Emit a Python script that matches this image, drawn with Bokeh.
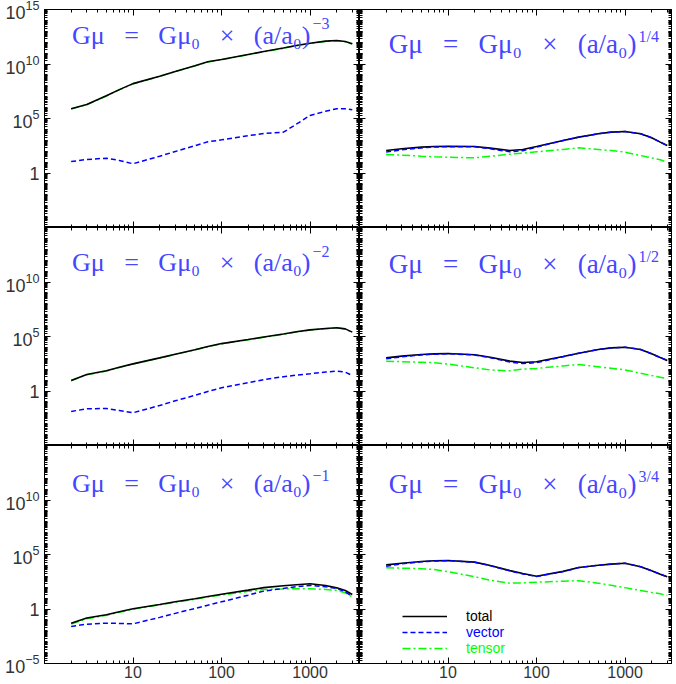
from bokeh.plotting import figure
from bokeh.models import (LogAxis, FixedTicker, LogTickFormatter, Label, Legend,
                          LegendItem, Range1d, ColumnDataSource)
from bokeh.layouts import gridplot
from bokeh.embed import file_html
from bokeh.resources import INLINE

# ---------------- data (log10 of the spectra) ----------------
x_k = [2, 3, 5, 7, 10, 20, 30, 50, 70, 100, 200, 300, 500, 700, 1000, 1500, 2000, 2500, 3000]

# G mu ~ a^-3
tot_m3 = [5.90, 6.28, 7.08, 7.65, 8.20, 8.88, 9.32, 9.84, 10.20, 10.41, 10.87, 11.14, 11.46, 11.70, 11.90, 12.10, 12.15, 12.06, 11.85]
vec_m3 = [1.05, 1.24, 1.36, 1.15, 0.85, 1.54, 1.97, 2.50, 2.86, 3.04, 3.42, 3.62, 3.74, 4.48, 5.28, 5.67, 5.89, 5.89, 5.80]
ten_m3 = [5.88, 6.26, 7.06, 7.63, 8.18, 8.86, 9.30, 9.82, 10.18, 10.39, 10.85, 11.12, 11.44, 11.68, 11.88, 12.08, 12.13, 12.04, 11.83]
# G mu ~ a^-2
tot_m2 = [0.96, 1.51, 1.85, 2.17, 2.49, 3.04, 3.38, 3.79, 4.08, 4.35, 4.72, 4.95, 5.23, 5.43, 5.61, 5.73, 5.80, 5.70, 5.40]
vec_m2 = [-1.88, -1.63, -1.60, -1.79, -2.00, -1.33, -0.90, -0.40, -0.05, 0.29, 0.76, 1.04, 1.31, 1.45, 1.58, 1.74, 1.82, 1.73, 1.42]
ten_m2 = [0.94, 1.49, 1.83, 2.15, 2.47, 3.02, 3.36, 3.77, 4.06, 4.33, 4.70, 4.93, 5.21, 5.41, 5.59, 5.71, 5.78, 5.68, 5.38]
# G mu ~ a^-1
tot_m1 = [-1.30, -0.83, -0.53, -0.26, 0.02, 0.41, 0.66, 0.94, 1.15, 1.35, 1.73, 1.96, 2.13, 2.23, 2.31, 2.16, 1.94, 1.70, 1.33]
vec_m1 = [-1.61, -1.39, -1.30, -1.32, -1.36, -0.77, -0.40, 0.05, 0.35, 0.66, 1.27, 1.64, 1.89, 2.04, 2.16, 2.04, 1.88, 1.58, 1.15]
ten_m1 = [-1.38, -0.90, -0.58, -0.30, -0.02, 0.38, 0.62, 0.90, 1.10, 1.28, 1.62, 1.78, 1.84, 1.86, 1.85, 1.80, 1.70, 1.50, 1.10]
# G mu ~ a^1/4
tot_p14 = [2.06, 2.22, 2.37, 2.43, 2.46, 2.43, 2.28, 2.06, 2.16, 2.43, 2.98, 3.29, 3.60, 3.75, 3.81, 3.60, 3.23, 2.83, 2.52]
vec_p14 = [1.92, 2.12, 2.30, 2.38, 2.42, 2.40, 2.22, 1.95, 2.05, 2.38, 2.98, 3.29, 3.60, 3.75, 3.81, 3.60, 3.23, 2.83, 2.52]
ten_p14 = [1.70, 1.64, 1.54, 1.48, 1.45, 1.39, 1.54, 1.73, 1.82, 1.94, 2.16, 2.31, 2.16, 2.06, 1.91, 1.60, 1.39, 1.21, 0.99]
# G mu ~ a^1/2
tot_p12 = [3.04, 3.20, 3.35, 3.41, 3.44, 3.32, 3.10, 2.74, 2.61, 2.68, 3.17, 3.47, 3.81, 3.96, 4.02, 3.81, 3.41, 3.07, 2.80]
vec_p12 = [2.95, 3.14, 3.31, 3.38, 3.42, 3.30, 3.06, 2.66, 2.52, 2.60, 3.15, 3.47, 3.81, 3.96, 4.02, 3.81, 3.41, 3.07, 2.80]
ten_p12 = [2.74, 2.69, 2.64, 2.60, 2.47, 2.13, 1.93, 1.85, 2.00, 2.07, 2.30, 2.43, 2.22, 2.08, 1.93, 1.63, 1.42, 1.27, 1.12]
# G mu ~ a^3/4
tot_p34 = [4.05, 4.20, 4.36, 4.42, 4.45, 4.30, 3.99, 3.52, 3.25, 3.01, 3.45, 3.80, 4.02, 4.12, 4.20, 3.88, 3.50, 3.19, 2.95]
vec_p34 = [3.93, 4.14, 4.33, 4.40, 4.44, 4.29, 3.98, 3.50, 3.22, 2.98, 3.44, 3.80, 4.02, 4.12, 4.20, 3.88, 3.50, 3.19, 2.95]
ten_p34 = [3.78, 3.75, 3.70, 3.63, 3.42, 2.96, 2.63, 2.37, 2.40, 2.46, 2.55, 2.60, 2.37, 2.17, 1.96, 1.70, 1.52, 1.39, 1.24]

exponents = [["\u22123", "1/4"], ["\u22122", "1/2"], ["\u22121", "3/4"]]
series = [[(tot_m3, vec_m3, ten_m3), (tot_p14, vec_p14, ten_p14)],
          [(tot_m2, vec_m2, ten_m2), (tot_p12, vec_p12, ten_p12)],
          [(tot_m1, vec_m1, ten_m1), (tot_p34, vec_p34, ten_p34)]]

x_major = [10, 100, 1000]
x_minor = [m * 10 ** e for e in range(0, 4) for m in range(1, 10) if m * 10 ** e <= 4000]
y_labeled = [[1, 1e5, 1e10, 1e15], [1, 1e5, 1e10], [1e-5, 1, 1e5, 1e10]]
y_minor = [m * 10.0 ** e for e in range(-5, 15) for m in range(1, 10)] + [1e15]

legend_labels = ["total", "vector", "tensor"]

# ---------------- layout / style ----------------
FW = [315, 312]
FH = 218
XMAX = [3620, 3350]
B_L = [44, 0]
B_R = [0, 5]
B_T = [9, 0, 0]
B_B = [0, 0, 21]
TITLE_X = [266, 277]
TITLE_SIZE = ["26px", "27px"]
TITLE_DY = [[26, 34], [35, 36], [38, 38]]
EXP_RISE = [[12, 7], [11, 7], [8, 7]]
TITLE_COLOR = "#4646ff"
GAP = "\u2002 "
C_TOT, C_VEC, C_TEN = "black", "#0000ff", "#00ff00"
LEG_Y = [47, 31, 15]


def style_axis(ax, ticker, formatter, show, size, standoff):
    ax.ticker = ticker
    ax.formatter = formatter
    ax.axis_line_color = "black"
    ax.major_tick_line_color = "black"
    ax.minor_tick_line_color = "black"
    ax.major_tick_in = 6
    ax.major_tick_out = 0
    ax.minor_tick_in = 3
    ax.minor_tick_out = 0
    ax.major_label_text_font = "Liberation Sans"
    if show:
        ax.major_label_text_font_size = size
        ax.major_label_text_color = "#333333"
        ax.major_label_standoff = standoff
    else:
        ax.major_label_text_font_size = "1px"
        ax.major_label_text_alpha = 0
        ax.major_label_standoff = 0


title_main = "G\u03bc" + GAP + "=" + GAP + "G\u03bc\u2080" + GAP + "\u00d7" + GAP + "(a/a\u2080)"

rows = []
for r in range(3):
    row = []
    for c in range(2):
        tot, vec, ten = series[r][c]
        p = figure(x_axis_type="log", y_axis_type="log",
                   x_range=Range1d(1, XMAX[c]), y_range=Range1d(1e-5, 1e15),
                   frame_width=FW[c], frame_height=FH,
                   min_border_left=B_L[c], min_border_right=B_R[c],
                   min_border_top=B_T[r], min_border_bottom=B_B[r],
                   output_backend="svg", toolbar_location=None)
        p.grid.visible = False
        p.outline_line_color = "black"
        p.outline_line_width = 1

        xt = FixedTicker(ticks=x_major, minor_ticks=x_minor)
        yt = FixedTicker(ticks=y_labeled[r], minor_ticks=y_minor)
        style_axis(p.xaxis[0], xt, LogTickFormatter(min_exponent=4), r == 2, "16px", 2)
        style_axis(p.yaxis[0], yt, LogTickFormatter(min_exponent=1), c == 0, "18px", 5)
        ax_top = LogAxis()
        style_axis(ax_top, xt, LogTickFormatter(min_exponent=4), False, "1px", 0)
        p.add_layout(ax_top, "above")
        ax_right = LogAxis()
        style_axis(ax_right, yt, LogTickFormatter(min_exponent=1), False, "1px", 0)
        p.add_layout(ax_right, "right")

        src = ColumnDataSource(dict(x=x_k,
                                    tot=[10.0 ** v for v in tot],
                                    vec=[10.0 ** v for v in vec],
                                    ten=[10.0 ** v for v in ten]))
        r_ten = p.line("x", "ten", source=src, line_color=C_TEN, line_width=1.5, line_dash="8 3 2 3")
        r_tot = p.line("x", "tot", source=src, line_color=C_TOT, line_width=1.6)
        r_vec = p.line("x", "vec", source=src, line_color=C_VEC, line_width=1.5, line_dash="5 3")

        by = FH - TITLE_DY[r][c]
        p.add_layout(Label(x=TITLE_X[c], y=by, x_units="screen", y_units="screen",
                           text=title_main,
                           text_align="right", text_baseline="alphabetic",
                           text_font="Liberation Serif", text_font_size=TITLE_SIZE[c],
                           text_color=TITLE_COLOR))
        p.add_layout(Label(x=TITLE_X[c] + 2, y=by + EXP_RISE[r][c], x_units="screen", y_units="screen",
                           text=exponents[r][c], text_align="left", text_baseline="alphabetic",
                           text_font="Liberation Serif", text_font_size="16px",
                           text_color=TITLE_COLOR))

        if r == 2 and c == 1:
            for lab, rr, col, ly in zip(legend_labels, [r_tot, r_vec, r_ten],
                                        [C_TOT, C_VEC, C_TEN], LEG_Y):
                lg = Legend(items=[LegendItem(label=lab, renderers=[rr])],
                            location=(43, ly - 8), border_line_color=None,
                            background_fill_alpha=0, padding=0, margin=0, spacing=0,
                            glyph_width=45, glyph_height=10, label_height=10,
                            label_standoff=19, label_text_font="Liberation Sans",
                            label_text_font_size="14px", label_text_color=col)
                p.add_layout(lg, "center")
        row.append(p)
    rows.append(row)

grid = gridplot(rows, toolbar_location=None)
open("out.html", "w").write(file_html(grid, INLINE))
